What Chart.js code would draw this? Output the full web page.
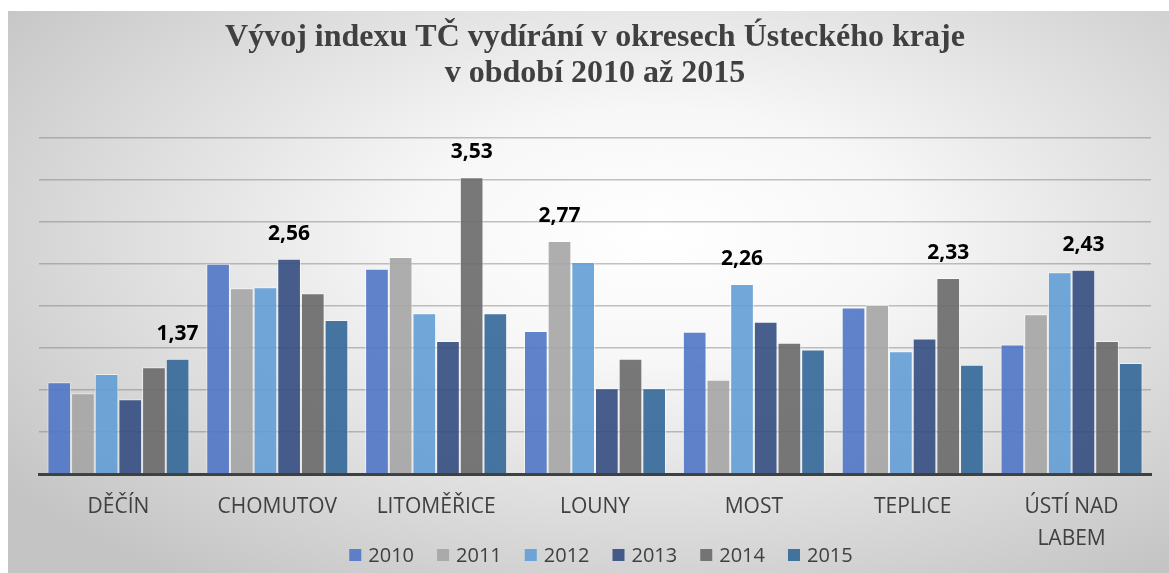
<!DOCTYPE html>
<html>
<head>
<meta charset="utf-8">
<script src="https://cdn.jsdelivr.net/npm/chart.js@4/dist/chart.umd.min.js"></script>
<style>
  html, body { margin: 0; padding: 0; background: #ffffff; }
  #wrap {
    position: absolute;
    left: 8px; top: 11px;
    width: 1161px; height: 562px;
    background: radial-gradient(ellipse 70% 75% at 56% 40%, #ffffff 0%, #f7f7f7 30%, #dedede 65%, #c4c4c4 100%);
  }
</style>
</head>
<body>
<div id="wrap"><canvas id="chart" width="1161" height="562"></canvas></div>
<script>
// Districts (x axis)
const districts = ["DĚČÍN", "CHOMUTOV", "LITOMĚŘICE", "LOUNY", "MOST", "TEPLICE", ["ÚSTÍ NAD", "LABEM"]];

// Index per year, one value per district
const years = ["2010", "2011", "2012", "2013", "2014", "2015"];
const v2010 = [1.09, 2.50, 2.44, 1.70, 1.69, 1.98, 1.54];
const v2011 = [0.96, 2.21, 2.58, 2.77, 1.12, 2.01, 1.90];
const v2012 = [1.19, 2.22, 1.91, 2.52, 2.26, 1.46, 2.40];
const v2013 = [0.89, 2.56, 1.58, 1.02, 1.81, 1.61, 2.43];
const v2014 = [1.27, 2.15, 3.53, 1.37, 1.56, 2.33, 1.58];
const v2015 = [1.37, 1.83, 1.91, 1.02, 1.48, 1.30, 1.32];

const colors = [
    "rgba(79,118,198,0.9)",
    "rgba(165,165,165,0.9)",
    "rgba(98,157,213,0.9)",
    "rgba(52,78,130,0.9)",
    "rgba(105,105,105,0.9)",
    "rgba(50,103,151,0.9)"
];

const series = [v2010, v2011, v2012, v2013, v2014, v2015];

// ---------------------
// Value label above the highest bar of each district
// ---------------------

const maxLabels = {
    id: "maxLabels",
    afterDatasetsDraw(chart) {
        const ctx = chart.ctx;
        ctx.save();
        ctx.font = "bold 21px 'Open Sans'";
        ctx.fillStyle = "#000000";
        ctx.textAlign = "center";
        ctx.textBaseline = "middle";
        districts.forEach((d, i) => {
            let best = 0;
            series.forEach((s, k) => { if (s[i] > series[best][i]) best = k; });
            const bar = chart.getDatasetMeta(best).data[i];
            const txt = series[best][i].toFixed(2).replace(".", ",");
            ctx.fillText(txt, bar.x, bar.y - 25);
        });
        ctx.restore();
    }
};

// ---------------------
// Legend row under the axis labels
// ---------------------

const yearLegend = {
    id: "yearLegend",
    afterDraw(chart) {
        const ctx = chart.ctx;
        const box = 12, gap = 7, space = 23;
        ctx.save();
        ctx.font = "20px 'Open Sans'";
        ctx.textBaseline = "middle";
        ctx.textAlign = "left";
        const widths = years.map(y => box + gap + ctx.measureText(y).width);
        const total = widths.reduce((a, b) => a + b, 0) + space * (years.length - 1);
        const area = chart.chartArea;
        let x = (area.left + area.right) / 2 - total / 2 + 6;
        const y = 544;
        years.forEach((yr, k) => {
            ctx.fillStyle = colors[k];
            ctx.fillRect(x, y - box / 2, box, box);
            ctx.fillStyle = "#404040";
            ctx.fillText(yr, x + box + gap, y + 1);
            x += widths[k] + space;
        });
        ctx.restore();
    }
};

new Chart(document.getElementById("chart"), {
    type: "bar",
    data: {
        labels: districts,
        datasets: years.map((y, k) => ({
            label: y,
            data: series[k],
            backgroundColor: colors[k],
            borderColor: "rgba(255,255,255,0.55)",
            borderWidth: 1,
            categoryPercentage: 0.894,
            barPercentage: 1.0
        }))
    },
    options: {
        responsive: false,
        animation: false,
        layout: { padding: { left: 31, right: 18, top: 0, bottom: 0 } },
        plugins: {
            title: {
                display: true,
                text: ["Vývoj indexu TČ vydírání v okresech Ústeckého kraje", "v období 2010 až 2015"],
                color: "#404040",
                font: { family: "'Liberation Serif'", size: 32, weight: "bold", lineHeight: 1.15 },
                padding: { top: 8, bottom: 45 }
            },
            legend: { display: false },
            tooltip: { enabled: false }
        },
        scales: {
            x: {
                grid: { display: false },
                border: { display: true, color: "#404040", width: 3 },
                ticks: {
                    color: "#404040",
                    font: { family: "'Open Sans'", size: 21, lineHeight: 1.52 },
                    padding: 9,
                    maxRotation: 0,
                    autoSkip: false
                },
                afterFit(scale) { scale.height = 99; }
            },
            y: {
                min: 0,
                max: 4,
                ticks: { display: false, stepSize: 0.5 },
                grid: { color: "rgba(120,120,120,0.45)", lineWidth: 1.5, drawTicks: false },
                border: { display: false },
                afterFit(scale) { scale.width = 0; }
            }
        }
    },
    plugins: [maxLabels, yearLegend]
});
</script>
</body>
</html>
